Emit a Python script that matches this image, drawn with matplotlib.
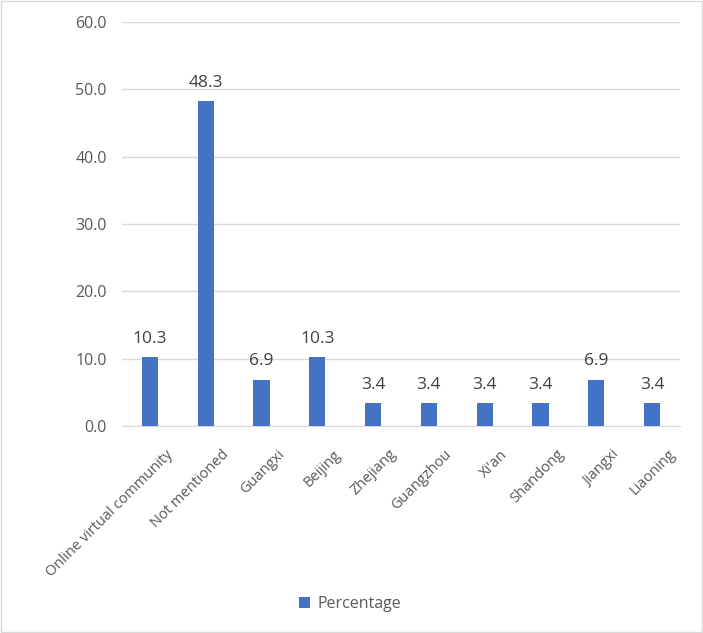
import matplotlib
matplotlib.use("Agg")
import matplotlib.pyplot as plt
import numpy as np

# Chart data
categories = ["Online virtual community", "Not mentioned", "Guangxi", "Beijing", "Zhejiang",
              "Guangzhou", "Xi'an", "Shandong", "Jiangxi", "Liaoning"]
percentage = [10.3, 48.3, 6.9, 10.3, 3.4, 3.4, 3.4, 3.4, 6.9, 3.4]
yticks = [0, 10, 20, 30, 40, 50, 60]

plt.rcParams['font.family'] = ['Open Sans', 'DejaVu Sans']
textColor = "#595959"

fig = plt.figure(figsize=(7.03, 6.33), dpi=100)
ax = fig.add_axes([122 / 703, 1 - 426 / 633, 558 / 703, 404 / 633])

x = np.arange(len(categories))
bars = ax.bar(x, percentage, width=0.29, color="#4472C4", label="Percentage", zorder=3)
for b, v in zip(bars, percentage):
    ax.text(b.get_x() + b.get_width() / 2, v + 1.5, "%.1f" % v, ha="center", va="bottom",
            fontsize=12.5, color="#404040")

ax.set_xlim(-0.5, len(categories) - 0.5)
ax.set_ylim(0, 60)
ax.set_yticks(yticks)
ax.set_yticklabels(["%.1f" % t for t in yticks], fontsize=11.5, color=textColor)
# Excel-style: rotated labels sit a little right of the bar centre
ax.set_xticks(x + 0.28)
ax.set_xticklabels(categories, rotation=45, ha="right", rotation_mode="anchor",
                   fontsize=10.5, color=textColor)
ax.tick_params(axis="y", length=0, pad=11)
ax.tick_params(axis="x", length=0, pad=15)
ax.grid(axis="y", color="#D9D9D9", linewidth=1, zorder=0)
for s in ["top", "right", "left"]:
    ax.spines[s].set_visible(False)
ax.spines["bottom"].set_color("#D9D9D9")

fig.legend(loc="center", bbox_to_anchor=(350 / 703, 1 - 604 / 633), frameon=False,
           handlelength=0.7, handleheight=0.7, handletextpad=0.5, fontsize=11.5,
           labelcolor=textColor)

# light border around the whole figure
fig.patches.append(plt.Rectangle((0.002, 0.002), 0.996, 0.996, transform=fig.transFigure,
                                 fill=False, edgecolor="#D9D9D9", linewidth=1))

fig.savefig("out.png", dpi=100)
